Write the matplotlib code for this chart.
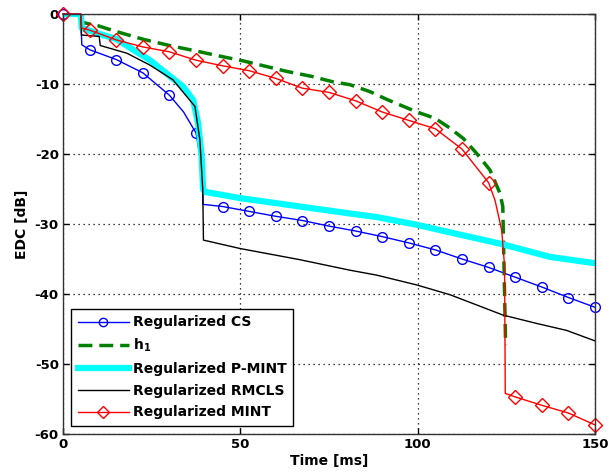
import numpy as np
import matplotlib
matplotlib.use("Agg")
import matplotlib.pyplot as plt

plt.rcParams['font.family'] = ['DejaVu Sans']
plt.rcParams['font.weight'] = 'bold'
plt.rcParams['font.size'] = 10
plt.rcParams['axes.unicode_minus'] = False

# Regularized CS
t_cs = [0, 5, 5.3, 7.5, 15, 22.5, 30, 34, 37.5, 39.2, 39.5, 45, 52.5, 60, 67.5, 75,
        82.5, 90, 97.5, 105, 112.5, 120, 127.5, 135, 142.5, 150]
edc_cs = [0, 0, -4.4, -5.1, -6.5, -8.4, -11.6, -14, -17, -22, -27.2, -27.5, -28.2, -28.9,
          -29.5, -30.3, -31, -31.8, -32.7, -33.7, -35, -36.2, -37.6, -39, -40.5, -41.9]

# h1
t_h1 = [0, 5, 5.5, 10, 15, 22.5, 30, 38.6, 45, 50.8, 63.1, 70, 76.2, 80.9, 86.6, 91.3,
        96, 99.8, 104.9, 109.1, 112.9, 116.6, 120.4, 123.2, 124.0, 124.8]
edc_h1 = [0, 0, -1.2, -1.7, -2.5, -3.6, -4.5, -5.4, -6.1, -6.7, -8.2, -8.9, -9.7, -10.1,
          -11.1, -12.2, -13.2, -14, -14.9, -16.3, -17.8, -19.9, -22.3, -25.6, -27.5, -47.3]

# Regularized P-MINT
t_pm = [0, 5, 5.3, 10, 15.1, 19.8, 24.5, 29.2, 33.9, 36.7, 38.1, 39.1, 39.5, 40, 49.9,
        52.7, 66.8, 80.9, 88.4, 99.7, 110, 123.2, 137.3, 150]
edc_pm = [0, 0, -2, -2.8, -3.6, -5.1, -6.6, -8.5, -10.4, -12.3, -15.6, -20.4, -25, -25.4,
          -26.3, -26.5, -27.5, -28.5, -29, -30.1, -31.3, -32.8, -34.7, -35.6]

# Regularized RMCLS
t_rm = [0, 5, 5.2, 10.2, 10.5, 18, 24.5, 31, 34.9, 37.2, 38.6, 39.4, 39.6, 49.9, 66.8,
        80.9, 88.4, 99.7, 109.1, 124, 133.5, 142, 150]
edc_rm = [0, 0, -3, -3.2, -4.5, -5.6, -7.3, -9.4, -11.8, -13.2, -18, -25, -32.3, -33.5,
          -35.1, -36.6, -37.3, -38.7, -40.1, -43, -44.2, -45.2, -46.7]

# Regularized MINT
t_mi = [0, 5, 5.3, 7.5, 15, 22.5, 30, 37.5, 45, 52.5, 60, 67.5, 75, 82.5, 90, 97.5, 105,
        112.5, 120, 121.8, 123.7, 124.5, 124.7, 127.5, 135, 142.5, 150]
edc_mi = [0, 0, -2, -2.3, -3.7, -4.7, -5.4, -6.6, -7.4, -8.1, -9.2, -10.6, -11.2, -12.4,
          -14, -15.2, -16.4, -19.3, -24.1, -26.6, -30.9, -36, -54.2, -54.7, -55.9, -57, -58.7]

marker_step = 7.5
mk_cs = [i for i, t in enumerate(t_cs) if abs(t / marker_step - round(t / marker_step)) < 1e-6]
mk_mi = [i for i, t in enumerate(t_mi) if abs(t / marker_step - round(t / marker_step)) < 1e-6]

fig = plt.figure(figsize=(6.09, 4.72), dpi=100)
ax = fig.add_axes([63 / 609, 1 - 434 / 472, 532 / 609, 420 / 472])

ax.plot(t_cs, edc_cs, color='#0000ff', lw=1, marker='o', markevery=mk_cs, ms=7,
        mfc='none', mec='#0000ff', label='Regularized CS', clip_on=False)
ax.plot(t_h1, edc_h1, color='#008000', lw=2.5, ls=(0, (4, 2)), label='h$_\\mathbf{1}$')
ax.plot(t_pm, edc_pm, color='#00ffff', lw=4.5, label='Regularized P-MINT')
ax.plot(t_rm, edc_rm, color='black', lw=1, label='Regularized RMCLS')
ax.plot(t_mi, edc_mi, color='#ff0000', lw=1, marker='D', markevery=mk_mi, ms=7,
        mfc='none', mec='#ff0000', label='Regularized MINT', clip_on=False)

ax.set_xlim(0, 150)
ax.set_ylim(-60, 0)
ax.set_xticks([0, 50, 100, 150])
ax.set_yticks([0, -10, -20, -30, -40, -50, -60])
ax.tick_params(direction='in', top=True, right=True, length=4, width=1, pad=3,
               labelsize=9.5)
ax.grid(True, ls=(0, (1, 3)), color='black', lw=0.9)
for s in ax.spines.values():
    s.set_linewidth(1)
    s.set_color('#333333')

ax.set_xlabel('Time [ms]', fontweight='bold', labelpad=2)
ax.set_ylabel('EDC [dB]', fontweight='bold', labelpad=4)

leg = ax.legend(loc='lower left', bbox_to_anchor=(0.0, 0.0), fancybox=False,
                edgecolor='black', framealpha=1, handlelength=3.7, borderaxespad=0.6,
                labelspacing=0.55, handletextpad=0.3, borderpad=0.45, numpoints=1)
leg.get_frame().set_linewidth(1)
# one marker in the middle of each legend line, like the original
for h in leg.legend_handles:
    if h.get_marker() not in (None, 'None', ''):
        h.set_markevery([1])
        h.set_markersize(6)

fig.savefig('out.png', dpi=100)
